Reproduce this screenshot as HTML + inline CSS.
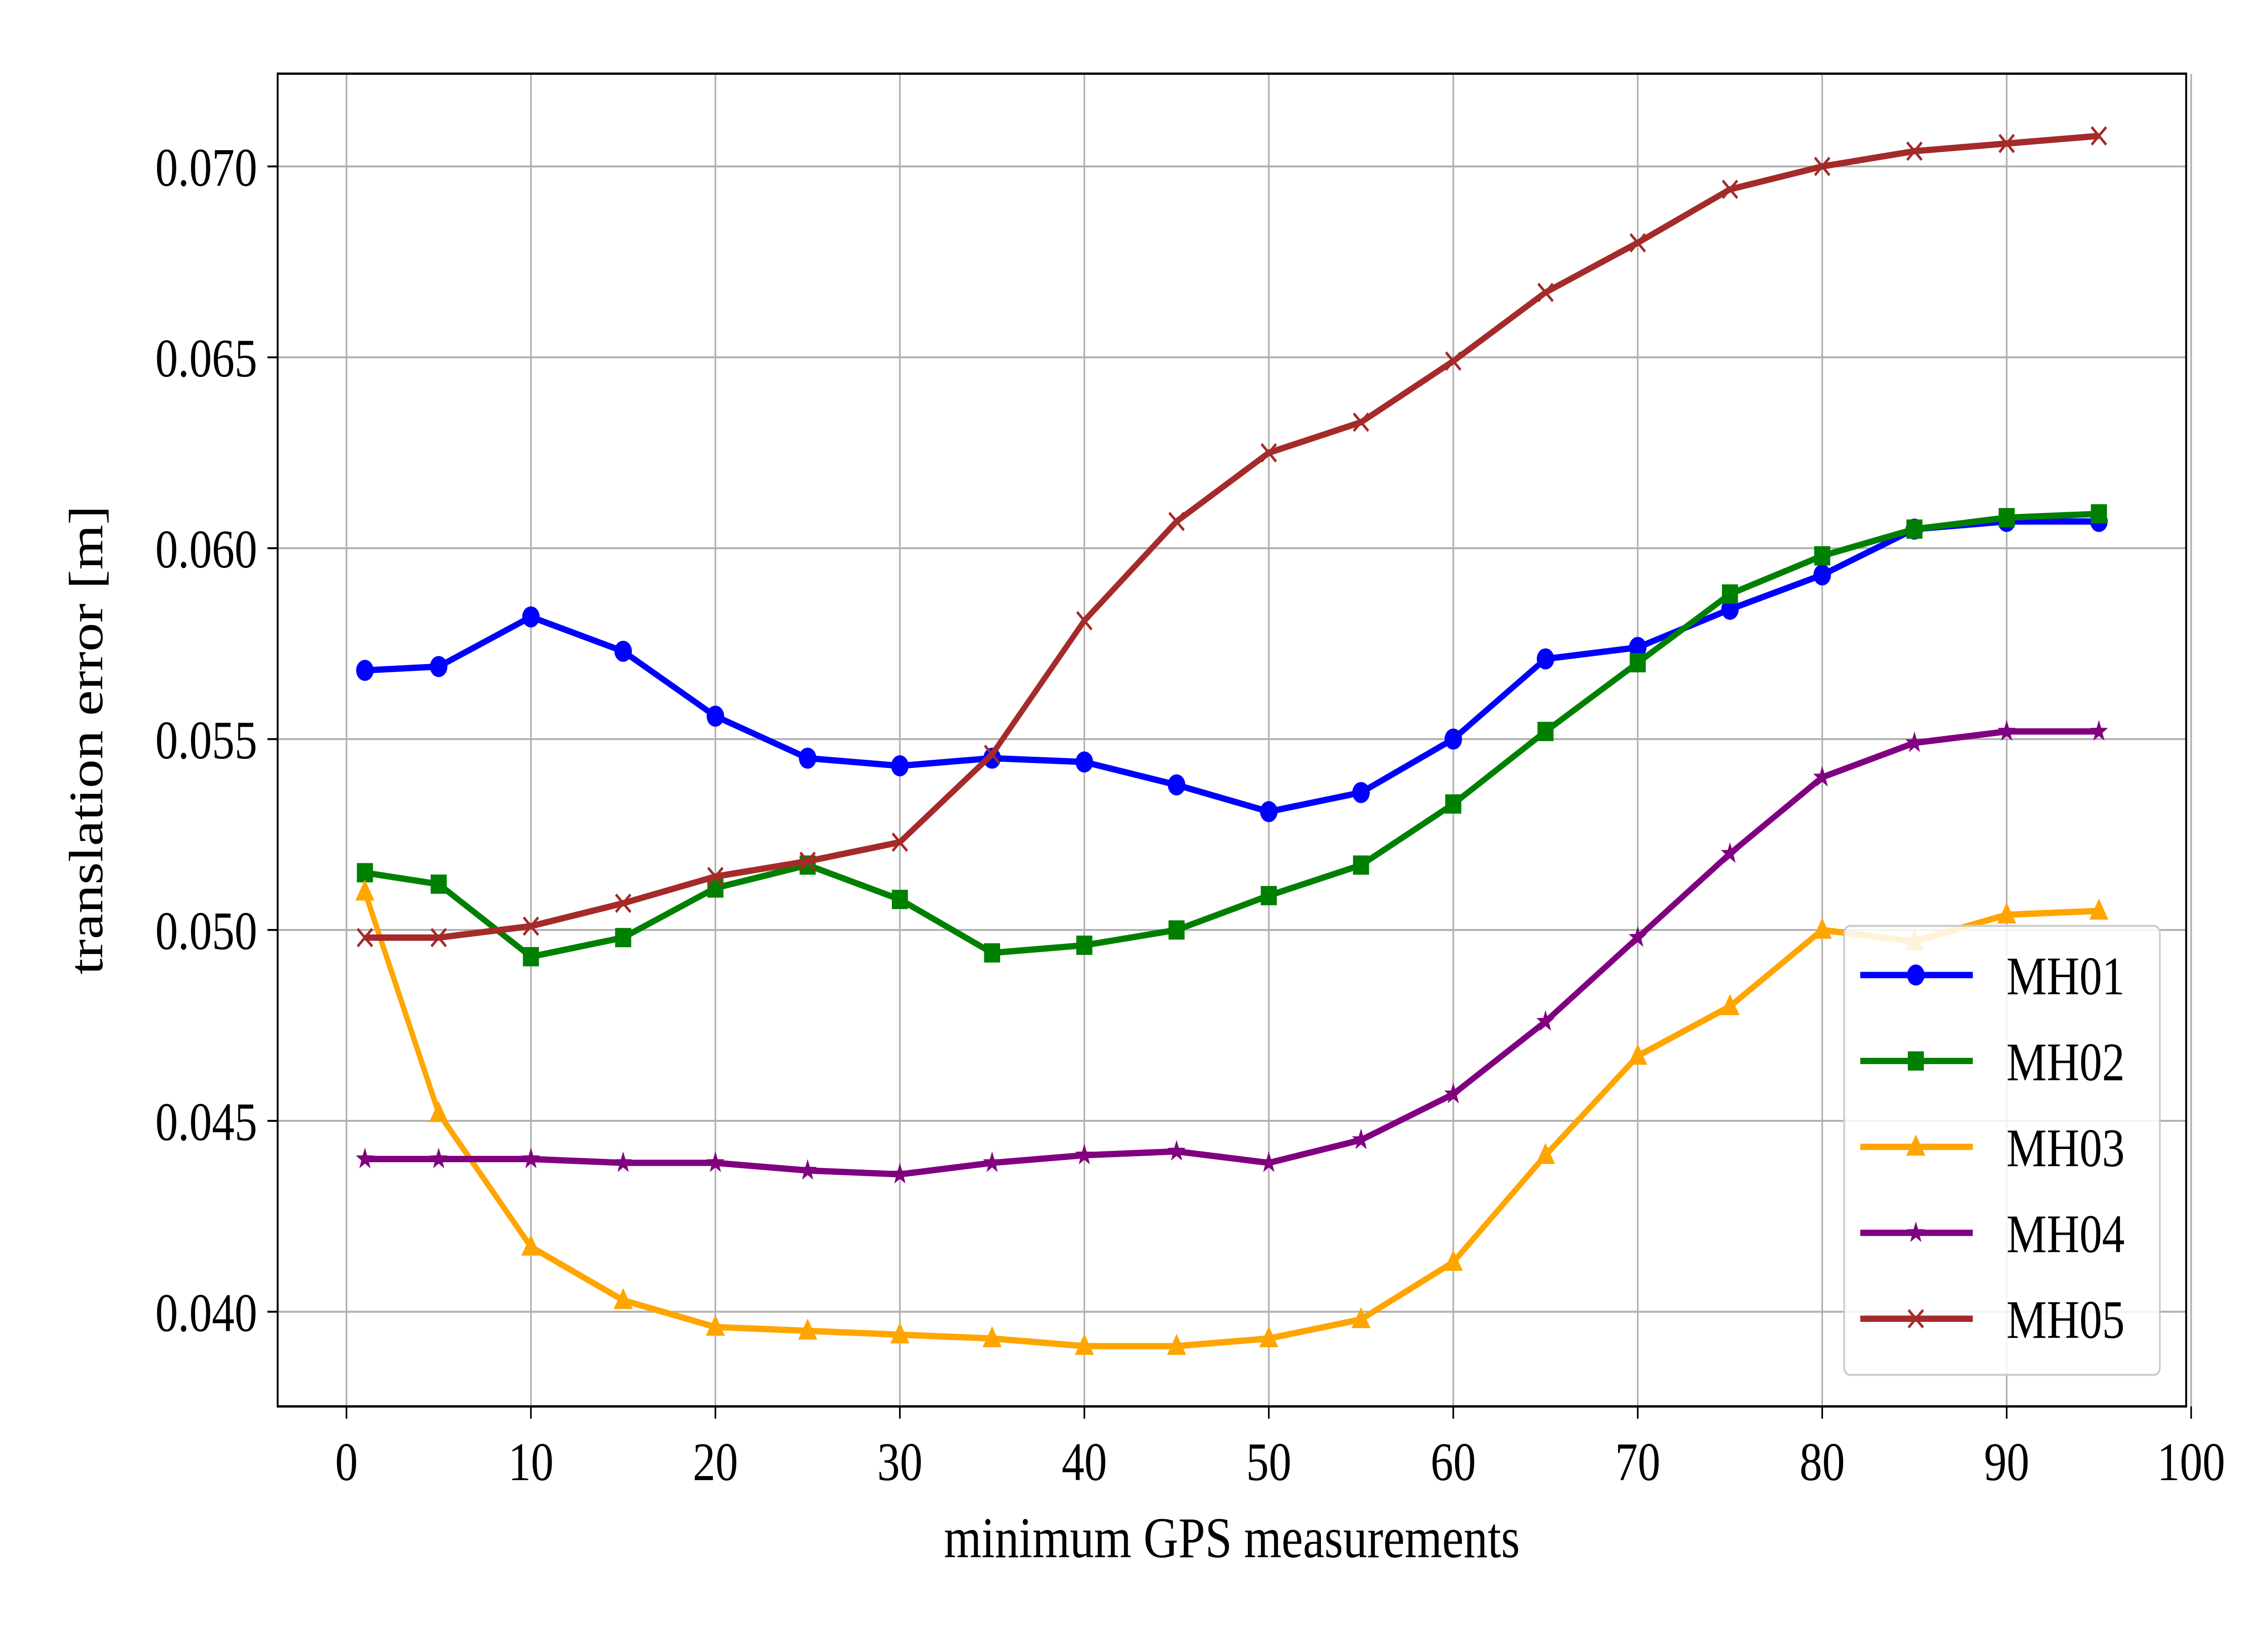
<!DOCTYPE html>
<html><head><meta charset="utf-8"><style>
html,body{margin:0;padding:0;background:#fff;width:100%;height:100%;overflow:hidden}
svg{display:block;position:fixed;left:0;top:0;width:100vw;height:100vh}
text{font-family:"Liberation Serif",serif;fill:#000}
</style></head><body>
<svg id="chart" viewBox="0 0 1552 931.2" preserveAspectRatio="none" xmlns="http://www.w3.org/2000/svg">
<rect x="0" y="0" width="1552" height="931.2" fill="#fff"/>
<g id="grid"></g>
<g id="series"></g>
<rect x="190" y="42" width="1306" height="760" fill="none" stroke="#000" stroke-width="1.3"/>
<g id="ticks"></g>
<text x="843" y="888" font-size="33" text-anchor="middle">minimum GPS measurements</text>
<text transform="translate(70,422) rotate(-90)" font-size="33" text-anchor="middle">translation error [m]</text>
<g id="legend"></g>
</svg>
<script>
const xs = [1,5,10,15,20,25,30,35,40,45,50,55,60,65,70,75,80,85,90,95];
const seriesNames = ["MH01","MH02","MH03","MH04","MH05"];
const mh01 = [0.0568,0.0569,0.0582,0.0573,0.0556,0.0545,0.0543,0.0545,0.0544,0.0538,0.0531,0.0536,0.0550,0.0571,0.0574,0.0584,0.0593,0.0605,0.0607,0.0607];
const mh02 = [0.0515,0.0512,0.0493,0.0498,0.0511,0.0517,0.0508,0.0494,0.0496,0.0500,0.0509,0.0517,0.0533,0.0552,0.0570,0.0588,0.0598,0.0605,0.0608,0.0609];
const mh03 = [0.0510,0.0452,0.0417,0.0403,0.0396,0.0395,0.0394,0.0393,0.0391,0.0391,0.0393,0.0398,0.0413,0.0441,0.0467,0.0480,0.0500,0.0497,0.0504,0.0505];
const mh04 = [0.0440,0.0440,0.0440,0.0439,0.0439,0.0437,0.0436,0.0439,0.0441,0.0442,0.0439,0.0445,0.0457,0.0476,0.0498,0.0520,0.0540,0.0549,0.0552,0.0552];
const mh05 = [0.0498,0.0498,0.0501,0.0507,0.0514,0.0518,0.0523,0.0546,0.0581,0.0607,0.0625,0.0633,0.0649,0.0667,0.0680,0.0694,0.0700,0.0704,0.0706,0.0708];
const xTicks = [0,10,20,30,40,50,60,70,80,90,100];
const yTicks = [0.040,0.045,0.050,0.055,0.060,0.065,0.070];
const yTickLabels = ["0.040","0.045","0.050","0.055","0.060","0.065","0.070"];

const NS="http://www.w3.org/2000/svg";
const L=190,R=1496,T=42,B=802;
const X0=-3.73,X1=99.73,Y0=0.03752,Y1=0.07243;
function sx(v){return L+(v-X0)/(X1-X0)*(R-L);}
function sy(v){return B-(v-Y0)/(Y1-Y0)*(B-T);}
function mk(tag,attrs,parent){const e=document.createElementNS(NS,tag);for(const k in attrs)e.setAttribute(k,attrs[k]);parent.appendChild(e);return e;}

const grid=document.getElementById('grid'),ticks=document.getElementById('ticks');
xTicks.forEach(t=>{
  const g=mk('line',{x1:sx(t),x2:sx(t),y1:T,y2:B,stroke:'#b0b0b0','stroke-width':1.1},grid);
  
  
  mk('line',{x1:sx(t),x2:sx(t),y1:B,y2:B+7,stroke:'#000','stroke-width':1.1},ticks);
  const tx=mk('text',{x:sx(t),y:B+42,'font-size':31,'text-anchor':'middle'},ticks);
  tx.textContent=t;
  
  
});
yTicks.forEach((t,i)=>{
  const g=mk('line',{x1:L,x2:R,y1:sy(t),y2:sy(t),stroke:'#b0b0b0','stroke-width':1.1},grid);
  
  
  mk('line',{x1:L-7,x2:L,y1:sy(t),y2:sy(t),stroke:'#000','stroke-width':1.1},ticks);
  const tx=mk('text',{x:L-14,y:sy(t)+11,'font-size':31,'text-anchor':'end'},ticks);
  tx.textContent=yTickLabels[i];
  
  
});

function marker(type,x,y,color,parent){
  let e;
  if(type==='o') e=mk('circle',{cx:x,cy:y,r:6,fill:color},parent);
  else if(type==='s') e=mk('rect',{x:x-5.5,y:y-5.5,width:11,height:11,fill:color},parent);
  else if(type==='^') e=mk('polygon',{points:`${x},${y-7} ${x-6.5},${y+5} ${x+6.5},${y+5}`,fill:color},parent);
  else if(type==='*'){let p=[];for(let k=0;k<10;k++){const a=-Math.PI/2+k*Math.PI/5,r=k%2?2.6:6.5;p.push((x+r*Math.cos(a)).toFixed(2)+','+(y+r*Math.sin(a)).toFixed(2));}
    e=mk('polygon',{points:p.join(' '),fill:color},parent);}
  else e=mk('path',{d:`M${x-5},${y-5}L${x+5},${y+5}M${x-5},${y+5}L${x+5},${y-5}`,stroke:color,'stroke-width':1.6,fill:'none'},parent);
  return e;
}
const all=[mh01,mh02,mh03,mh04,mh05];
const colors=['#0000ff','#008000','#ffa500','#800080','#a52a2a'];
const marks=['o','s','^','*','x'];
const sg=document.getElementById('series');
all.forEach((vals,si)=>{
  const g=mk('g',{},sg);
  
  
  const pl=mk('polyline',{points:vals.map((v,i)=>sx(xs[i])+','+sy(v)).join(' '),fill:'none',stroke:colors[si],'stroke-width':3.6,'stroke-linejoin':'round'},g);
  
  
  vals.forEach((v,i)=>{
    const m=marker(marks[si],sx(xs[i]),sy(v),colors[si],g);
    
    
  });
});
const lg=document.getElementById('legend');


mk('rect',{x:1262,y:528,width:216,height:256,rx:4,fill:'#fff','fill-opacity':0.85,stroke:'#ccc','stroke-width':1.2},lg);
seriesNames.forEach((n,i)=>{
  const y=556+i*49;
  const g=mk('g',{},lg);
  
  
  mk('line',{x1:1273,x2:1350,y1:y,y2:y,stroke:colors[i],'stroke-width':3.6},g);
  marker(marks[i],1311,y,colors[i],g);
  const t=mk('text',{x:1373,y:y+11,'font-size':31},g);
  t.textContent=n;
});
</script>
</body></html>
